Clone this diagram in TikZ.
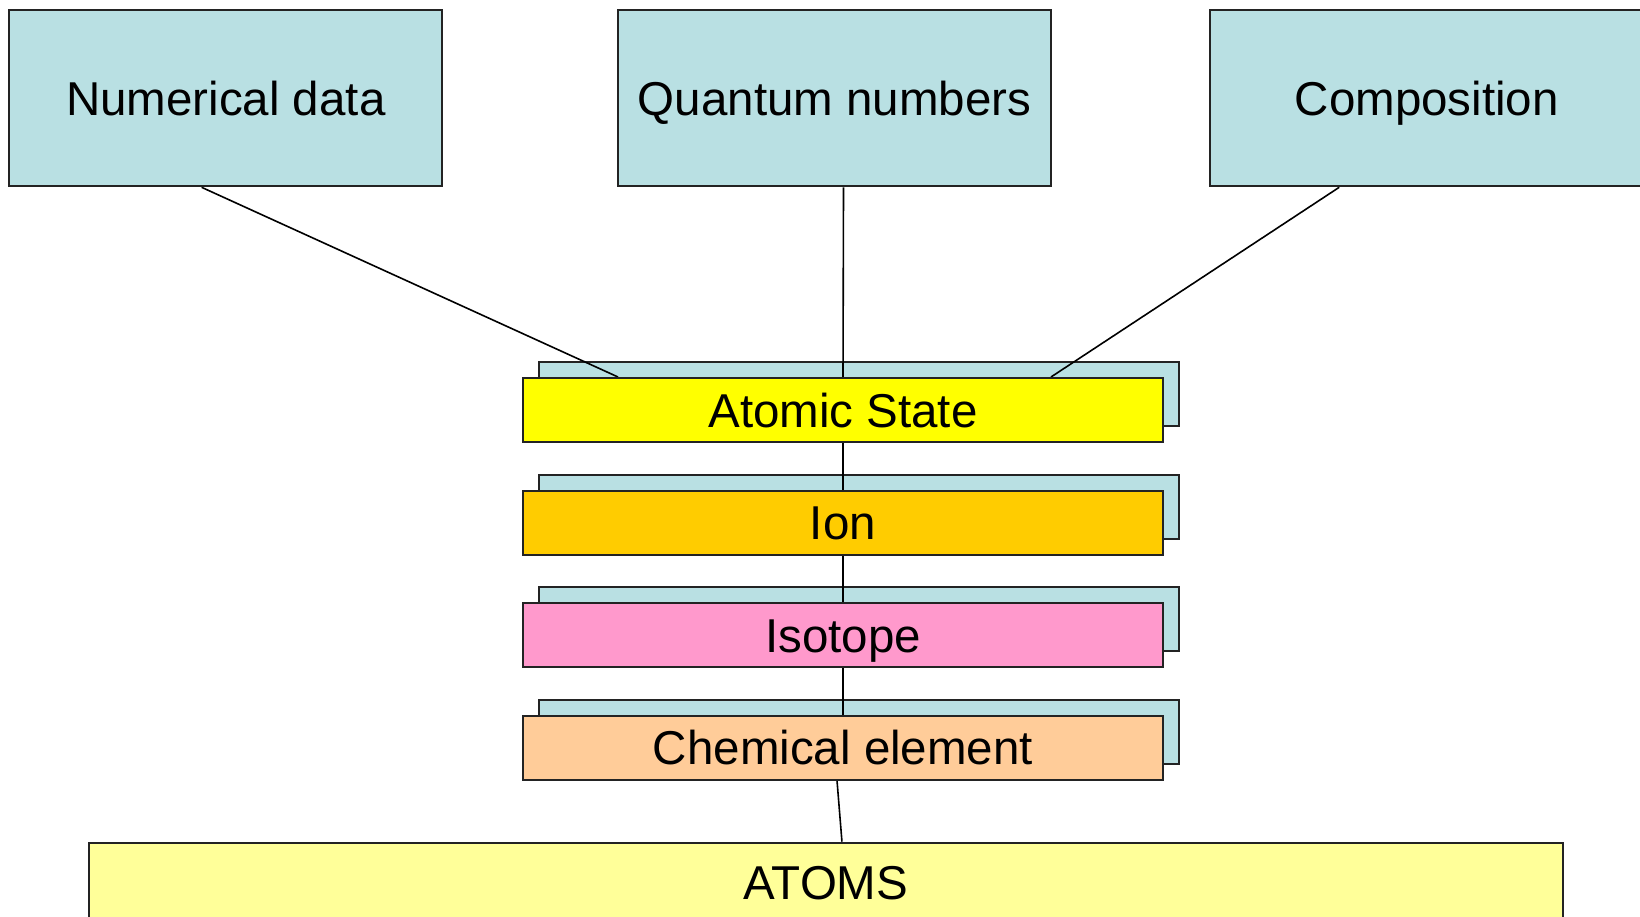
\documentclass[tikz,border=0pt]{standalone}
\usepackage{fontspec}
\setmainfont{Liberation Sans}
\usetikzlibrary{calc}
\pgfdeclarelayer{shadowlayer}
\pgfdeclarelayer{linelayer}
\pgfsetlayers{shadowlayer,linelayer,main}
\definecolor{boxblue}{RGB}{185,224,227}
\definecolor{stateyellow}{RGB}{255,255,0}
\definecolor{ionorange}{RGB}{255,204,0}
\definecolor{isopink}{RGB}{255,153,204}
\definecolor{chempeach}{RGB}{255,204,153}
\definecolor{atomsyellow}{RGB}{255,255,153}
\definecolor{edgegray}{RGB}{35,35,35}
\begin{document}
\begin{tikzpicture}[x=1pt,y=-1pt,
  box/.style={draw=edgegray, line width=2pt, inner sep=0pt, anchor=north west,
    text height=34pt, text depth=0pt, font=\fontsize{47.5}{57}\selectfont},
  topbox/.style={box, fill=boxblue, minimum width=433pt, minimum height=176pt},
  stackbox/.style={box, minimum width=640pt, minimum height=64pt},
  shadowbox/.style={stackbox, fill=boxblue},
  link/.style={draw=black, line width=1.6pt}]
\useasboundingbox (0,0) rectangle (1640,917);

% top boxes
\node[topbox] (num) at (8.3,9.3) {Numerical data};
\node[topbox] (qn) at (617,9.3) {Quantum numbers};
\node[topbox] (comp) at (1209.3,9.3) {Composition};

% stacked boxes
\node[stackbox, fill=stateyellow] (as) at (522,377) {Atomic State};
\node[stackbox, fill=ionorange] (ion) at (522,489.5) {Ion};
\node[stackbox, fill=isopink] (iso) at (522,602) {Isotope};
\node[stackbox, fill=chempeach] (chem) at (522,714.5) {Chemical element};

% atoms
\node[box, fill=atomsyellow, minimum width=1473.3pt, minimum height=80pt] (atoms) at (88.3,841.7) {ATOMS};

% shadows
\begin{pgfonlayer}{shadowlayer}
\node[shadowbox] (asS) at (538,361) {};
\node[shadowbox] (ionS) at (538,473.5) {};
\node[shadowbox] (isoS) at (538,586) {};
\node[shadowbox] (chemS) at (538,698.5) {};
\end{pgfonlayer}

% connectors
\begin{pgfonlayer}{linelayer}
\draw[link] ([xshift=-24.2pt]num.south) -- ([xshift=-225pt]as.north);
\draw[link] ([xshift=9pt]qn.south) -- (as.north);
\draw[link] ([xshift=-87.6pt]comp.south) -- ([xshift=208pt]as.north);
\draw[link] (as.south) -- (ion.north);
\draw[link] (ion.south) -- (iso.north);
\draw[link] (iso.south) -- (chem.north);
\draw[link] ([xshift=-6pt]chem.south) -- ([xshift=16pt]atoms.north);
\end{pgfonlayer}
\end{tikzpicture}
\end{document}
